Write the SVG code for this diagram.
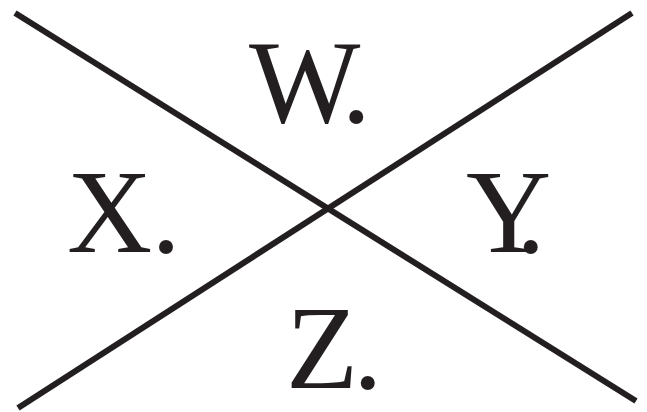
<svg xmlns="http://www.w3.org/2000/svg" width="647" height="412" viewBox="0 0 647 412">
<style>
.ln{stroke:#231f20;stroke-width:6;fill:none}
.lb{font-family:"Liberation Serif","Times New Roman",serif;font-size:118px;fill:#231f20}
</style>
<rect width="647" height="412" fill="#fff"/>
<g id="connectors">
<line class="ln" x1="15" y1="13" x2="636" y2="401"/>
<line class="ln" x1="632" y1="13" x2="18" y2="408"/>
</g>
<g id="W"><text class="lb" x="249" y="122">W<tspan dx="-8">.</tspan></text></g>
<g id="X"><text class="lb" x="67" y="252">X<tspan dx="-1">.</tspan></text></g>
<g id="Y"><text class="lb" x="466" y="252">Y<tspan dx="-20">.</tspan></text></g>
<g id="Z"><text class="lb" x="286" y="388">Z<tspan dx="-5">.</tspan></text></g>
</svg>
